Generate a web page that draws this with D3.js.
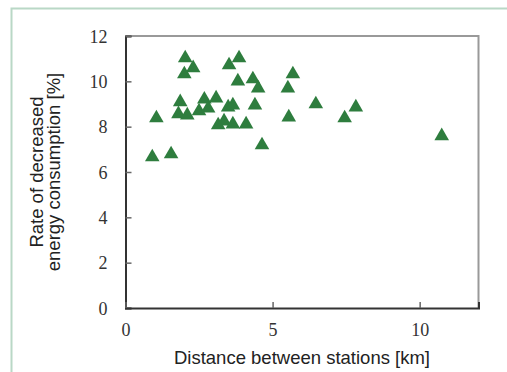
<!DOCTYPE html>
<html><head><meta charset="utf-8">
<script src="https://cdn.jsdelivr.net/npm/d3@7"></script>
<style>body{margin:0;background:#fff}svg{display:block}
.tick text{font-family:'Liberation Serif','DejaVu Serif',serif !important;}
</style>
</head><body>
<script>
const distanceKm = [0.91,1.55,1.05,2.03,2.3,2.0,1.86,1.8,2.1,2.5,2.68,2.81,3.08,3.15,3.35,3.49,3.65,3.65,3.52,3.86,3.82,4.1,4.33,4.51,4.4,4.64,5.52,5.69,5.55,6.47,7.83,7.45,10.75];
const rateDecreased = [6.75,6.88,8.47,11.12,10.68,10.41,9.18,8.65,8.6,8.78,9.3,8.9,9.35,8.16,8.33,8.95,9.04,8.2,10.81,11.12,10.1,8.2,10.19,9.79,9.04,7.28,9.79,10.41,8.51,9.09,8.95,8.47,7.68];
const xTicks = [0,5,10];
const yTicks = [0,2,4,6,8,10,12];
const xTitle = "Distance between stations [km]";
const yTitleLines = ["Rate of decreased","energy consumption [%]"];

const W=507,H=372;
const svg=d3.select("body").append("svg").attr("width",W).attr("height",H);
// outer frame
svg.append("path").attr("d","M11.5,"+H+"V8.5H"+W).attr("fill","none").attr("stroke","#b9d8c6").attr("stroke-width",2);

const L=125.5,R=478.5,T=36,B=308;
const x=d3.scaleLinear().domain([0,12]).range([L,R]);
const y=d3.scaleLinear().domain([0,12]).range([B,T]);

// top/right border
svg.append("path").attr("d",`M${L},${T}H${R}V${B}`).attr("fill","none").attr("stroke","#999").attr("stroke-width",2);

const serif="'Liberation Serif','DejaVu Serif',serif";
const sans="'Liberation Sans',Arial,sans-serif";

const yAxis=d3.axisLeft(y).tickValues(yTicks).tickSize(-6).tickPadding(18);
const gy=svg.append("g").attr("transform",`translate(${L},0)`).call(yAxis);
const xAxis=d3.axisBottom(x).tickValues(xTicks).tickSize(-6).tickPadding(15);
const gx=svg.append("g").attr("transform",`translate(0,${B})`).call(xAxis);
[gy,gx].forEach(g=>{
  g.attr("font-family",serif).attr("font-size",18);
  g.select(".domain").attr("stroke","#333").attr("stroke-width",2);
  g.selectAll(".tick line").attr("stroke","#666").attr("stroke-width",1.5);
  g.selectAll(".tick text").style("font-family",serif).style("font-size","18px").attr("fill","#333");
});
gy.selectAll(".tick text").attr("text-anchor","end").attr("dy","0.35em");

// points: triangle with its bounding box centred on the value
const boxTriangle={draw(ctx,size){
  const s=Math.sqrt(size*4/Math.sqrt(3)), h=s*Math.sqrt(3)/2;
  ctx.moveTo(0,-h/2); ctx.lineTo(s/2,h/2); ctx.lineTo(-s/2,h/2); ctx.closePath();
}};
const tri=d3.symbol().type(boxTriangle).size(92);
svg.append("g").selectAll("path").data(distanceKm).join("path")
  .attr("d",tri)
  .attr("transform",(d,i)=>`translate(${x(d)},${y(rateDecreased[i])})`)
  .attr("fill","#2e7d3e");

// titles
svg.append("text").attr("x",(L+R)/2).attr("y",364).attr("text-anchor","middle")
  .attr("font-family",sans).attr("font-size",18.5).attr("fill","#222").text(xTitle);
const yt=svg.append("text").attr("transform",`translate(0,${(T+B)/2}) rotate(-90)`)
  .attr("text-anchor","middle").attr("font-family",sans).attr("font-size",18.5).attr("fill","#222");
yTitleLines.forEach((t,i)=>yt.append("tspan").attr("x",0).attr("y",43+i*17).text(t));
</script>
</body></html>
